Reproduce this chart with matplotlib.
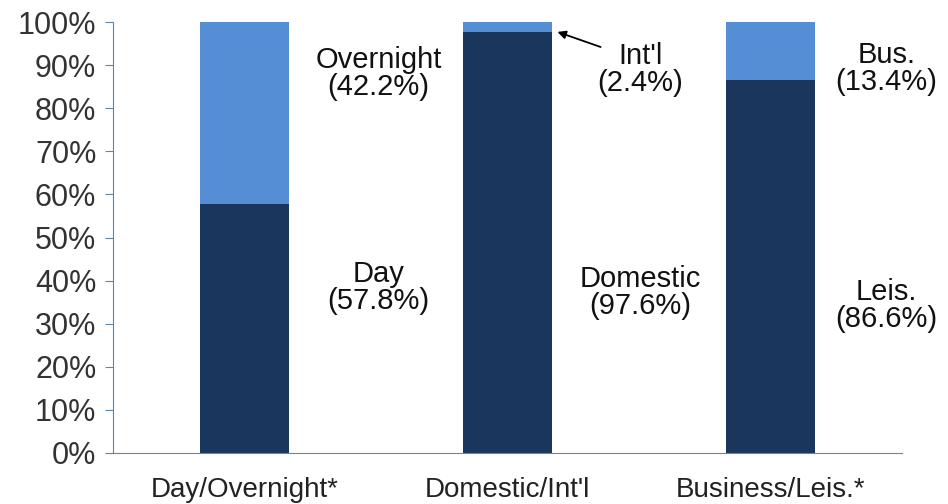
import matplotlib
matplotlib.use("Agg")
import matplotlib.pyplot as plt
import numpy as np

categories = ["Day/Overnight*", "Domestic/Int'l", "Business/Leis.*"]
bottom_vals = [57.8, 97.6, 86.6]
top_vals = [42.2, 2.4, 13.4]
bottom_names = ["Day", "Domestic", "Leis."]
top_names = ["Overnight", "Int'l", "Bus."]

plt.rcParams["font.family"] = ["Liberation Sans", "DejaVu Sans"]

DARK = "#1b365d"
LIGHT = "#558ed5"
TXT = "#111111"
FS = 21

fig = plt.figure(figsize=(9.48, 5.04), dpi=100)
ax = fig.add_axes([113 / 948, (504 - 453) / 504, (902 - 113) / 948, (453 - 22) / 504])

x = np.arange(len(categories))
ax.bar(x, bottom_vals, width=0.34, color=DARK)
ax.bar(x, top_vals, width=0.34, bottom=bottom_vals, color=LIGHT)

ax.set_xlim(-0.5, 2.5)
ax.set_ylim(0, 100)
ax.set_yticks(np.arange(0, 101, 10))
ax.set_yticklabels([f"{v}%" for v in range(0, 101, 10)])
ax.set_xticks(x)
ax.set_xticklabels(categories)

for s in ["top", "right"]:
    ax.spines[s].set_visible(False)
ax.spines["left"].set_color("#5b87a8")
ax.spines["bottom"].set_color("#808080")
ax.tick_params(axis="y", colors="#5b87a8", labelcolor="#333333", labelsize=22,
               length=6, direction="out", pad=6)
ax.tick_params(axis="x", length=0, labelcolor="#222222", labelsize=20, pad=17)

# segment labels
lab_x = [0.51, 1.505, 2.44]
bot_y = [38.5, 37.3, 34.2]
top_y = [88.0, 89.0, 89.3]
for i in range(len(categories)):
    ax.text(lab_x[i], bot_y[i], f"{bottom_names[i]}\n({bottom_vals[i]}%)",
            ha="center", va="center", fontsize=FS, color=TXT, linespacing=0.95)
    ax.text(lab_x[i], top_y[i], f"{top_names[i]}\n({top_vals[i]}%)",
            ha="center", va="center", fontsize=FS, color=TXT, linespacing=0.95)

# arrow pointing to the thin Int'l segment
ax.annotate("", xy=(1.19, 97.7), xytext=(1.354, 94.2),
            arrowprops=dict(arrowstyle="-|>", color="black", lw=1.3, shrinkA=0, shrinkB=0,
                            mutation_scale=12),
            annotation_clip=False)

fig.savefig("out.png", dpi=100)
